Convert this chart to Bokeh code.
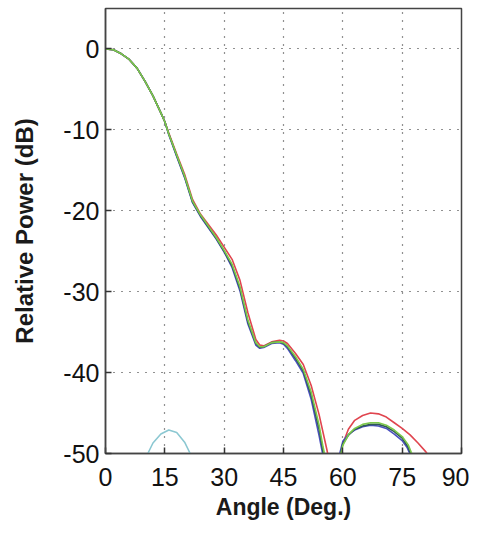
from bokeh.plotting import figure
from bokeh.models import Range1d, FixedTicker, CustomJSTickFormatter
from bokeh.embed import file_html
from bokeh.resources import INLINE

# ---- data ----
angle_main = [0, 2, 4, 6, 8, 10, 12, 14, 15, 16, 18, 20, 22, 24, 26, 28, 30, 32, 34, 36,
              38, 39, 40, 42, 44, 45, 46, 48, 50, 52, 54, 55, 56, 57]
dark_main = [0, -0.1, -0.6, -1.3, -2.4, -4.0, -5.8, -7.9, -9.0, -10.5, -13.2, -15.8, -18.9,
             -20.6, -22.0, -23.4, -25.0, -26.8, -29.6, -33.7, -36.4, -36.9, -36.8, -36.3,
             -36.2, -36.4, -36.8, -38.2, -39.8, -42.8, -47.0, -49.8, -52.5, -56.0]
green_main = [0, -0.1, -0.6, -1.3, -2.4, -4.0, -5.8, -7.9, -9.0, -10.5, -13.1, -15.7, -18.8,
              -20.5, -21.9, -23.3, -24.9, -26.6, -29.4, -33.5, -36.3, -36.8, -36.8, -36.3,
              -36.2, -36.3, -36.7, -38.0, -39.6, -42.4, -46.5, -49.2, -51.5, -55.0]
red_main = [0, -0.1, -0.6, -1.3, -2.4, -4.0, -5.8, -7.9, -9.0, -10.4, -13.0, -15.5, -18.6,
            -20.4, -21.7, -23.0, -24.5, -26.0, -28.6, -32.6, -35.9, -36.6, -36.7, -36.2,
            -36.0, -36.1, -36.4, -37.6, -39.0, -41.6, -45.2, -47.4, -49.6, -52.0]
blue_main = [0, -0.1, -0.6, -1.3, -2.4, -4.0, -5.8, -7.9, -9.0, -10.6, -13.3, -15.9, -19.0,
             -20.7, -22.1, -23.5, -25.1, -27.0, -29.9, -34.0, -36.6, -37.0, -36.9, -36.4,
             -36.3, -36.5, -37.0, -38.5, -40.1, -43.3, -47.8, -50.3, -54.0, -57.0]

angle_red_lobe = [59.0, 60, 61.4, 63, 65, 67, 69, 71, 73, 75, 77, 79, 81, 82]
red_lobe = [-51.0, -48.8, -47.0, -45.9, -45.3, -45.0, -45.1, -45.5, -46.2, -46.9, -47.7,
            -48.7, -49.8, -50.5]
angle_green_lobe = [59.0, 60, 61.5, 63, 65, 67, 69, 71, 73, 75, 76.5, 77.5, 78]
green_lobe = [-51.2, -49.0, -47.6, -46.9, -46.4, -46.2, -46.2, -46.5, -47.1, -47.9, -48.9,
              -50.1, -50.8]
angle_blue_lobe = [58.7, 60, 61.5, 63, 65, 67, 69, 71, 73, 75, 76.3, 77.2]
blue_lobe = [-51.0, -48.5, -47.6, -47.1, -46.7, -46.5, -46.6, -46.9, -47.6, -48.4, -49.3,
             -50.3]
angle_dark_lobe = [59.0, 60, 61.5, 63, 65, 67, 69, 71, 73, 75, 76.5, 77.4]
dark_lobe = [-51.1, -48.8, -47.7, -47.0, -46.6, -46.4, -46.4, -46.7, -47.3, -48.1, -49.2,
             -50.4]

angle_cyan = [10.0, 10.7, 12, 14, 16, 18, 20, 21.4, 22]
cyan_lobe = [-50.7, -50.0, -48.7, -47.6, -47.1, -47.4, -48.6, -50.0, -50.8]

x_ticks = [0, 15, 30, 45, 60, 75, 90]
y_ticks = [0, -10, -20, -30, -40, -50]

FONT = "Liberation Sans"

p = figure(width=469, height=522, output_backend="svg", toolbar_location=None,
           x_range=Range1d(0, 90), y_range=Range1d(-50, 5),
           min_border_left=105, min_border_right=8, min_border_top=8, min_border_bottom=66)
p.background_fill_color = "white"
p.border_fill_color = "white"
p.outline_line_color = "#444444"
p.outline_line_width = 1.5

xax = p.below[0]
yax = p.left[0]
for ax in (xax, yax):
    ax.major_label_text_font = FONT
    ax.major_label_text_font_size = "25px"
    ax.major_label_text_color = "#111111"
    ax.axis_label_text_font = FONT
    ax.axis_label_text_font_style = "bold"
    ax.axis_label_text_color = "#1a1a1a"
    ax.major_tick_in = 6
    ax.major_tick_out = 0
    ax.minor_tick_line_color = None
    ax.axis_line_color = "#444444"
    ax.axis_line_width = 1.5
    ax.major_tick_line_color = "#333333"
    ax.major_tick_line_width = 1.5
    ax.formatter = CustomJSTickFormatter(code="return tick.toFixed(0);")

xax.axis_label_text_font_size = "23px"
yax.axis_label_text_font_size = "24px"
xax.ticker = FixedTicker(ticks=x_ticks)
yax.ticker = FixedTicker(ticks=y_ticks)
xax.axis_label = "Angle (Deg.)"
yax.axis_label = "Relative Power (dB)"
xax.major_label_standoff = 14
yax.major_label_standoff = 6
xax.axis_label_standoff = 5
yax.axis_label_standoff = 22

for g in (p.xgrid[0], p.ygrid[0]):
    g.grid_line_color = "#222222"
    g.grid_line_dash = "1 7"
    g.grid_line_width = 1.2
p.xgrid.ticker = FixedTicker(ticks=x_ticks)
p.ygrid.ticker = FixedTicker(ticks=y_ticks)

RED = "#e0454f"
BLUE = "#4a4fc0"
DARK = "#2f5a55"
GREEN = "#7cc84a"
CYAN = "#8cc8d2"

p.line(angle_cyan, cyan_lobe, line_color=CYAN, line_width=1.6)
p.line(angle_main, red_main, line_color=RED, line_width=1.6)
p.line(angle_red_lobe, red_lobe, line_color=RED, line_width=1.6)
p.line(angle_main, blue_main, line_color=BLUE, line_width=1.6)
p.line(angle_blue_lobe, blue_lobe, line_color=BLUE, line_width=1.6)
p.line(angle_main, dark_main, line_color=DARK, line_width=1.6)
p.line(angle_dark_lobe, dark_lobe, line_color=DARK, line_width=1.6)
p.line(angle_main, green_main, line_color=GREEN, line_width=1.6)
p.line(angle_green_lobe, green_lobe, line_color=GREEN, line_width=1.6)

open("out.html", "w").write(file_html(p, INLINE))
